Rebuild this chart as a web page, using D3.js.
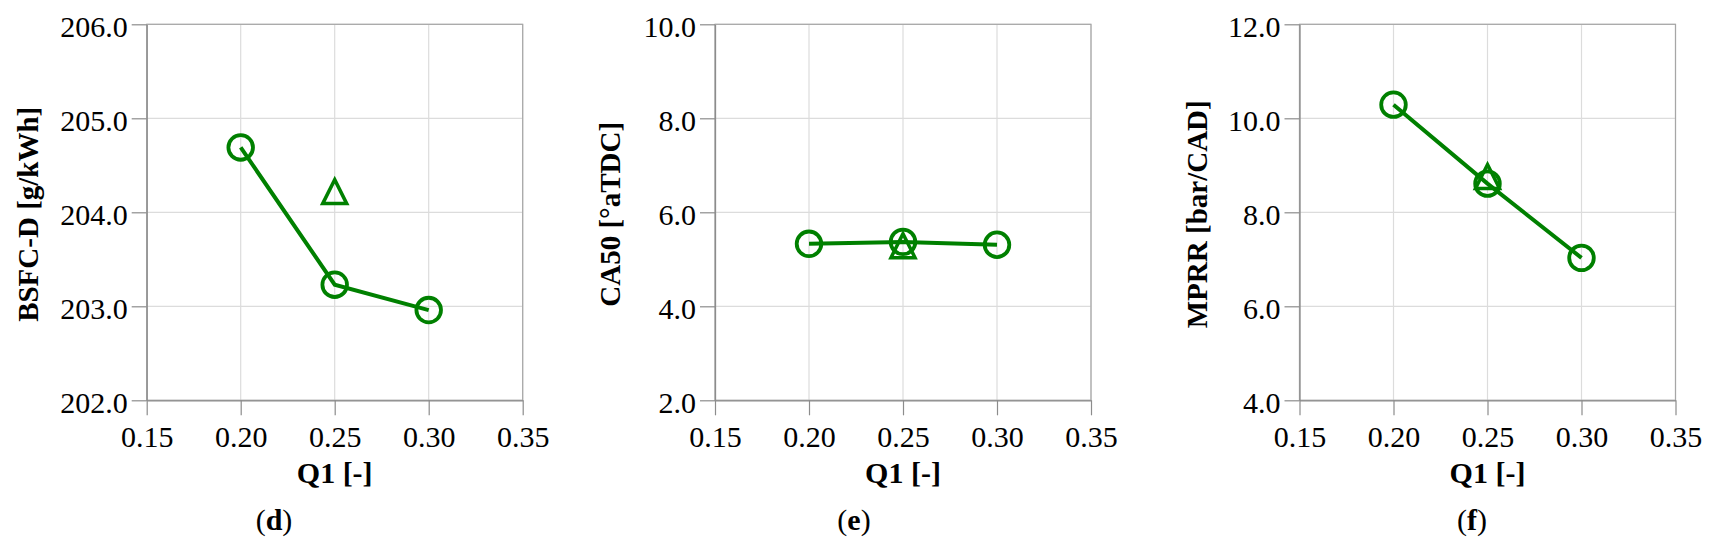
<!DOCTYPE html>
<html>
<head>
<meta charset="utf-8">
<script src="https://cdn.jsdelivr.net/npm/d3@7/dist/d3.min.js"></script>
<style>
  html, body { margin: 0; padding: 0; background: #fff; }
  svg { display: block; font-family: "Liberation Serif", "Times New Roman", serif; }
</style>
</head>
<body>
<svg id="chart"></svg>
<script>
// values
var q1 = [0.20, 0.25, 0.30];
var q1Triangle = [0.25];
var xTicks = [0.15, 0.20, 0.25, 0.30, 0.35];

var bsfcCircle = [204.69, 203.23, 202.96];
var bsfcTriangle = [204.22];
var bsfcTicks = [202, 203, 204, 205, 206];

var ca50Circle = [5.33, 5.37, 5.31];
var ca50Triangle = [5.29];
var ca50Ticks = [2, 4, 6, 8, 10];

var mprrCircle = [10.29, 8.61, 7.03];
var mprrTriangle = [8.76];
var mprrTicks = [4, 6, 8, 10, 12];

var width = 1715, height = 552;
var top0 = 24.3, size = 376;
var green = "#008000";
var fontSize = "30px";

var panels = [
  { key: "d", left: 146.7, ylabel: "BSFC-D [g/kWh]", circle: bsfcCircle, tri: bsfcTriangle, ticks: bsfcTicks, titleOff: 109, capX: 274 },
  { key: "e", left: 715, ylabel: "CA50 [°aTDC]", circle: ca50Circle, tri: ca50Triangle, ticks: ca50Ticks, titleOff: 95, capX: 854 },
  { key: "f", left: 1299.5, ylabel: "MPRR [bar/CAD]", circle: mprrCircle, tri: mprrTriangle, ticks: mprrTicks, titleOff: 93, capX: 1472 }
];

// triangle marker with equal width and height, centred on its box
var triShape = {
  draw: function (ctx, s) {
    var h = s / 2;
    ctx.moveTo(0, -h);
    ctx.lineTo(h, h);
    ctx.lineTo(-h, h);
    ctx.closePath();
  }
};

var svg = d3.select("#chart").attr("width", width).attr("height", height);

panels.forEach(function (p) {
  var g = svg.append("g").attr("transform", "translate(" + p.left + "," + top0 + ")");
  var x = d3.scaleLinear().domain([0.15, 0.35]).range([0, size]);
  var y = d3.scaleLinear().domain([p.ticks[0], p.ticks[p.ticks.length - 1]]).range([size, 0]);

  // grid
  g.append("g").selectAll("line").data(p.ticks).enter().append("line")
    .attr("x1", 0).attr("x2", size)
    .attr("y1", function (d) { return y(d); }).attr("y2", function (d) { return y(d); })
    .attr("stroke", "#dcdcdc").attr("stroke-width", 1.2);
  g.append("g").selectAll("line").data(xTicks).enter().append("line")
    .attr("y1", 0).attr("y2", size)
    .attr("x1", function (d) { return x(d); }).attr("x2", function (d) { return x(d); })
    .attr("stroke", "#dcdcdc").attr("stroke-width", 1.2);

  // frame (top + right)
  g.append("rect").attr("x", 0).attr("y", 0).attr("width", size).attr("height", size)
    .attr("fill", "none").attr("stroke", "#a6a6a6").attr("stroke-width", 1.2);

  var yAxis = d3.axisLeft(y).tickValues(p.ticks).tickFormat(d3.format(".1f"))
    .tickSize(15).tickSizeOuter(0).tickPadding(4);
  var xAxis = d3.axisBottom(x).tickValues(xTicks).tickFormat(d3.format(".2f"))
    .tickSize(15).tickSizeOuter(0).tickPadding(10);

  var ya = g.append("g").call(yAxis);
  var xa = g.append("g").attr("transform", "translate(0," + size + ")").call(xAxis);
  [ya, xa].forEach(function (a) {
    a.selectAll("path").attr("stroke", "#8c8c8c").attr("stroke-width", 1.3);
    a.selectAll("line").attr("stroke", "#8c8c8c").attr("stroke-width", 1.2);
    a.selectAll("text").attr("fill", "#000")
      .style("font-family", "'Liberation Serif', 'Times New Roman', serif")
      .style("font-size", fontSize);
  });
  ya.selectAll("text").attr("dy", "0.39em");
  xa.selectAll("text").attr("dy", "0.71em");

  // axis titles
  g.append("text")
    .attr("transform", "translate(" + (-p.titleOff) + "," + (size / 2 + 2) + ") rotate(-90)")
    .attr("text-anchor", "middle")
    .style("font-size", "29px").style("font-weight", "bold")
    .text(p.ylabel);
  g.append("text")
    .attr("x", size / 2).attr("y", 483.5 - top0)
    .attr("text-anchor", "middle")
    .style("font-size", fontSize).style("font-weight", "bold")
    .text("Q1 [-]");

  // line + circles
  var line = d3.line().x(function (d, i) { return x(q1[i]); }).y(function (d) { return y(d); });
  g.append("path").datum(p.circle).attr("d", line)
    .attr("fill", "none").attr("stroke", green).attr("stroke-width", 4);
  g.selectAll("circle.pt").data(p.circle).enter().append("circle")
    .attr("class", "pt")
    .attr("cx", function (d, i) { return x(q1[i]); })
    .attr("cy", function (d) { return y(d); })
    .attr("r", 12.3)
    .attr("fill", "none").attr("stroke", green).attr("stroke-width", 3.8);

  // triangle point
  g.selectAll("path.tri").data(p.tri).enter().append("path")
    .attr("class", "tri")
    .attr("d", d3.symbol().type(triShape).size(24))
    .attr("transform", function (d, i) { return "translate(" + x(q1Triangle[i]) + "," + y(d) + ")"; })
    .attr("fill", "none").attr("stroke", green).attr("stroke-width", 3.5)
    .attr("stroke-linejoin", "miter");

  // caption
  var cap = svg.append("text").attr("x", p.capX).attr("y", 530)
    .attr("text-anchor", "middle").style("font-size", fontSize);
  cap.append("tspan").text("(");
  cap.append("tspan").style("font-weight", "bold").text(p.key);
  cap.append("tspan").text(")");
});
</script>
</body>
</html>
